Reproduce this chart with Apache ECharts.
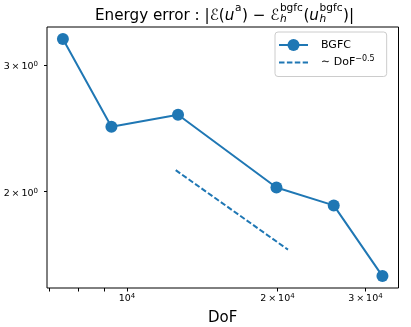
<!DOCTYPE html>
<html>
<head>
<meta charset="utf-8">
<script src="https://cdn.jsdelivr.net/npm/echarts@6/dist/echarts.min.js"></script>
<style>
  html, body { margin: 0; background: #fff; }
  #chart { width: 411px; height: 327px; }
</style>
</head>
<body>
<div id="chart"></div>
<script>
// values (log-log plot)
const dof = [7443, 9307, 12650, 19907, 25920, 32440];
const energyError = [3.261, 2.459, 2.556, 2.024, 1.911, 1.523];
const refDof = [12515, 20993];       // ~ DoF^-0.5 guide
const refError = [2.140, 1.658];
const xTickValues = [7000, 8000, 9000, 10000, 20000, 30000];
const xLabelValues = [10000, 20000, 30000];
const yLabelValues = [2, 3];
const xRange = [6917, 34930];
const yRange = [1.466, 3.388];

const blue = '#1f77b4';
const FONT = '"DejaVu Sans", sans-serif';

// "3 × 10^4" as rich text, like matplotlib's LogFormatterSciNotation
function sciLabel(v) {
  const e = Math.floor(Math.log10(v) + 1e-9);
  const m = Math.round(v / Math.pow(10, e));
  return '{m|' + (m === 1 ? '' : m + '\u2009×\u2009') + '10}{e|' + e + '}';
}
const tickRich = {
  m: { fontSize: 9.5, lineHeight: 12, color: '#000', fontFamily: FONT },
  e: { fontSize: 7, lineHeight: 8, verticalAlign: 'top', color: '#000', fontFamily: FONT }
};
const lg = v => Math.log10(v);

// title built from pieces so sub/superscripts can stack
const ctx = document.createElement('canvas').getContext('2d');
function textWidth(t, size, italic) {
  ctx.font = (italic ? 'italic ' : '') + size + 'px ' + FONT;
  return ctx.measureText(t).width;
}
function buildTitle(cx, baseY) {
  const M = 15.2, S = 10.6;
  const mainY = baseY - 5.2, supY = baseY - 12.8, subY = baseY - 1.8;
  const parts = [
    { t: 'Energy error : |' },
    { t: 'ℰ' }, { t: '(' }, { t: 'u', i: true }, { sup: 'a' }, { t: ') − ' },
    { t: 'ℰ' }, { sup: 'bgfc', sub: 'h' }, { t: '(' }, { t: 'u', i: true },
    { sup: 'bgfc', sub: 'h' }, { t: ')|' }
  ];
  const items = [];
  let x = 0;
  parts.forEach(p => {
    if (p.t) {
      items.push({ t: p.t, x: x, y: mainY, size: M, i: p.i });
      x += textWidth(p.t, M, p.i);
    } else {
      let adv = 0;
      if (p.sup) { items.push({ t: p.sup, x: x + 0.5, y: supY, size: S }); adv = textWidth(p.sup, S); }
      if (p.sub) { items.push({ t: p.sub, x: x + 0.5, y: subY, size: S, i: true }); adv = Math.max(adv, textWidth(p.sub, S, true)); }
      x += adv + 1;
    }
  });
  const x0 = cx - x / 2;
  return items.map(it => ({
    type: 'text',
    x: x0 + it.x,
    y: it.y,
    silent: true,
    style: {
      text: it.t,
      fill: '#000',
      font: (it.i ? 'italic ' : '') + it.size + 'px ' + FONT,
      textAlign: 'left',
      verticalAlign: 'middle'
    }
  }));
}

const chart = echarts.init(document.getElementById('chart'), null, { renderer: 'canvas' });

const option = {
  animation: false,
  backgroundColor: '#fff',
  textStyle: { fontFamily: FONT },
  grid: {
    left: 47, top: 27, right: 12.5, bottom: 39,
    containLabel: false,
    outerBoundsMode: 'none',
    show: true,
    borderColor: '#000',
    borderWidth: 1,
    backgroundColor: 'transparent'
  },
  legend: {
    orient: 'vertical',
    left: 275,
    top: 32,
    padding: [7, 12, 8, 3],
    itemWidth: 29,
    itemHeight: 15,
    itemGap: 4,
    backgroundColor: 'rgba(255,255,255,0.8)',
    borderColor: '#cccccc',
    borderWidth: 1,
    borderRadius: 3,
    data: ['BGFC', { name: 'ref', itemStyle: { opacity: 0 } }],
    formatter: name => name === 'ref' ? '{n|∼ DoF}{s|−0.5}' : '{n|' + name + '}',
    textStyle: {
      color: '#000',
      fontFamily: FONT,
      fontSize: 11,
      padding: [0, 0, 0, 8],
      rich: {
        n: { fontSize: 11, lineHeight: 15, fontFamily: FONT, color: '#000' },
        s: { fontSize: 8, lineHeight: 9, verticalAlign: 'top', fontFamily: FONT, color: '#000' }
      }
    }
  },
  xAxis: [
    {
      // data axis (log scale), decorations drawn by the overlay axis below
      type: 'log', logBase: 10, min: xRange[0], max: xRange[1],
      axisLine: { show: false }, axisTick: { show: false },
      axisLabel: { show: false }, splitLine: { show: false }, minorTick: { show: false }
    },
    {
      type: 'value', position: 'bottom', min: lg(xRange[0]), max: lg(xRange[1]),
      name: 'DoF', nameLocation: 'middle', nameGap: 23,
      nameTextStyle: { fontSize: 15, color: '#000', fontFamily: FONT },
      axisLine: { show: false },
      axisTick: { show: true, length: 3.5, customValues: xTickValues.map(lg), lineStyle: { color: '#000', width: 1 } },
      axisLabel: {
        show: true, margin: 5, color: '#000', fontFamily: FONT, rich: tickRich,
        customValues: xLabelValues.map(lg),
        formatter: v => sciLabel(Math.pow(10, v))
      },
      splitLine: { show: false }
    }
  ],
  yAxis: [
    {
      type: 'log', logBase: 10, min: yRange[0], max: yRange[1],
      axisLine: { show: false }, axisTick: { show: false },
      axisLabel: { show: false }, splitLine: { show: false }, minorTick: { show: false }
    },
    {
      type: 'value', position: 'left', min: lg(yRange[0]), max: lg(yRange[1]),
      axisLine: { show: false },
      axisTick: { show: true, length: 3, customValues: yLabelValues.map(lg), lineStyle: { color: '#000', width: 1 } },
      axisLabel: {
        show: true, margin: 9, color: '#000', fontFamily: FONT, rich: tickRich,
        padding: [4, 0, 0, 0],
        customValues: yLabelValues.map(lg),
        formatter: v => sciLabel(Math.pow(10, v))
      },
      splitLine: { show: false }
    }
  ],
  series: [
    {
      name: 'BGFC',
      type: 'line',
      xAxisIndex: 0, yAxisIndex: 0,
      data: dof.map((d, i) => [d, energyError[i]]),
      symbol: 'circle',
      symbolSize: 12,
      color: blue,
      itemStyle: { color: blue },
      lineStyle: { color: blue, width: 2 },
      z: 3
    },
    {
      name: 'ref',
      type: 'line',
      xAxisIndex: 0, yAxisIndex: 0,
      data: refDof.map((d, i) => [d, refError[i]]),
      symbol: 'none',
      color: blue,
      itemStyle: { color: blue },
      lineStyle: { color: blue, width: 2, type: [5.5, 2.4] },
      z: 2
    }
  ],
  graphic: buildTitle(224.5, 21)
};

chart.setOption(option);
</script>
</body>
</html>
